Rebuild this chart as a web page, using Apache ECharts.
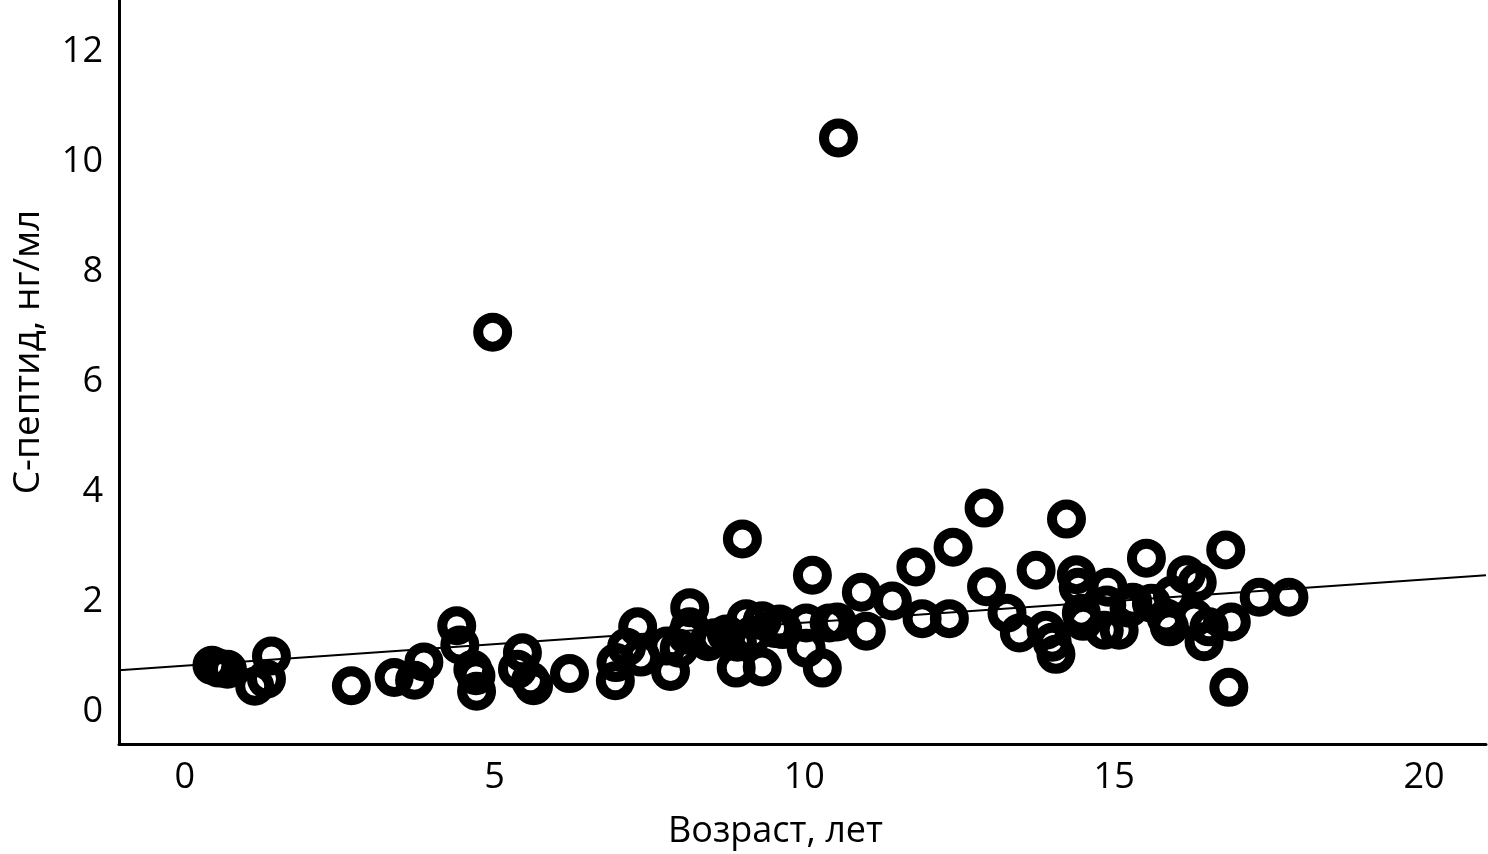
<!DOCTYPE html>
<html lang="ru">
<head>
    <meta charset="UTF-8">
    <title>С-пептид и возраст</title>
    <script src="https://cdn.jsdelivr.net/npm/echarts@6/dist/echarts.min.js"></script>
</head>
<body style="margin:0">
<div id="chart" style="width:1488px;height:854px"></div>
<script>
    // возраст, лет
    var age = [
        0.44, 0.55, 0.69, 1.13, 1.32, 1.40, 2.69, 3.38, 3.71, 3.86,
        4.39, 4.44, 4.65, 4.70, 4.71, 4.97, 5.37, 5.45, 5.58, 5.63,
        6.21, 6.95, 6.96, 7.13, 7.31, 7.36, 7.78, 7.84, 7.98, 8.10,
        8.15, 8.15, 8.45, 8.55, 8.74, 8.90, 8.92, 9.00, 9.06, 9.16,
        9.32, 9.32, 9.52, 9.60, 9.65, 10.03, 10.03, 10.13, 10.29, 10.40,
        10.53, 10.55, 10.92, 11.00, 11.42, 11.80, 11.90, 12.34, 12.40, 12.90,
        12.94, 13.27, 13.47, 13.74, 13.90, 14.00, 14.06, 14.23, 14.39, 14.42,
        14.47, 14.50, 14.84, 14.88, 14.90, 15.08, 15.24, 15.30, 15.52, 15.60,
        15.84, 15.89, 15.94, 16.16, 16.29, 16.34, 16.45, 16.53, 16.80, 16.85,
        16.89, 17.34, 17.82
    ];
    // С-пептид, нг/мл
    var cPeptide = [
        0.85, 0.80, 0.78, 0.47, 0.60, 1.02, 0.48, 0.63, 0.58, 0.91,
        1.57, 1.22, 0.78, 0.66, 0.38, 6.91, 0.78, 1.08, 0.57, 0.48,
        0.70, 0.57, 0.90, 1.18, 1.55, 1.00, 1.20, 0.74, 1.16, 1.40,
        1.90, 1.55, 1.28, 1.35, 1.42, 0.80, 1.27, 3.15, 1.70, 1.40,
        1.66, 0.82, 1.52, 1.60, 1.50, 1.62, 1.16, 2.49, 0.80, 1.62,
        1.64, 10.44, 2.18, 1.47, 2.02, 2.64, 1.70, 1.70, 3.00, 3.71,
        2.28, 1.80, 1.44, 2.58, 1.49, 1.27, 1.05, 3.51, 2.50, 2.27,
        1.80, 1.65, 1.49, 1.95, 2.27, 1.49, 1.89, 2.00, 2.80, 1.98,
        1.71, 1.55, 2.13, 2.50, 1.71, 2.36, 1.28, 1.55, 2.95, 0.45,
        1.64, 2.09, 2.09
    ];
    // линия тренда (по картинке)
    var fitIntercept = 0.843;
    var fitSlope = 0.0784;
    var xRange = [-1.06, 21.0];
    var yRange = [-0.58, 12.95];
    var xTicks = [0, 5, 10, 15, 20];
    var yTicks = [0, 2, 4, 6, 8, 10, 12];

    var points = [];
    for (var i = 0; i < age.length; i++) {
        points.push([age[i], cPeptide[i]]);
    }
    var fitLine = [
        [xRange[0], fitIntercept + fitSlope * xRange[0]],
        [xRange[1], fitIntercept + fitSlope * xRange[1]]
    ];

    var font = '"Open Sans", "Noto Sans", sans-serif';
    var myChart = echarts.init(document.getElementById('chart'));

    var option = {
        backgroundColor: '#fff',
        animation: false,
        grid: {
            left: 119,
            right: 2,
            top: 0,
            bottom: 110,
            outerBoundsMode: 'none'
        },
        xAxis: {
            type: 'value',
            min: xRange[0],
            max: xRange[1],
            name: 'Возраст, лет',
            nameLocation: 'middle',
            nameGap: 70,
            nameTextStyle: {color: '#000', fontSize: 36, fontFamily: font, padding: [0, 54, 0, 0]},
            axisLine: {show: true, onZero: false, lineStyle: {color: '#000', width: 3}},
            axisTick: {show: false},
            splitLine: {show: false},
            axisLabel: {
                color: '#000', fontSize: 36, fontFamily: font, margin: 16,
                customValues: xTicks
            }
        },
        yAxis: {
            type: 'value',
            min: yRange[0],
            max: yRange[1],
            name: 'С-пептид, нг/мл',
            nameLocation: 'middle',
            nameGap: 72,
            nameTextStyle: {color: '#000', fontSize: 37, fontFamily: font, padding: [0, 0, 0, 40]},
            axisLine: {show: true, onZero: false, lineStyle: {color: '#000', width: 3}},
            axisTick: {show: false},
            splitLine: {show: false},
            axisLabel: {
                color: '#000', fontSize: 36, fontFamily: font, margin: 16,
                customValues: yTicks
            }
        },
        series: [
            {
                type: 'scatter',
                data: points,
                symbol: 'circle',
                symbolSize: 29,
                itemStyle: {
                    color: 'rgba(255,255,255,0)',
                    borderColor: '#000',
                    borderWidth: 10,
                    opacity: 1
                },
                z: 2
            },
            {
                type: 'line',
                data: fitLine,
                symbol: 'none',
                lineStyle: {color: '#000', width: 2},
                z: 3
            }
        ]
    };

    myChart.setOption(option);
</script>
</body>
</html>
